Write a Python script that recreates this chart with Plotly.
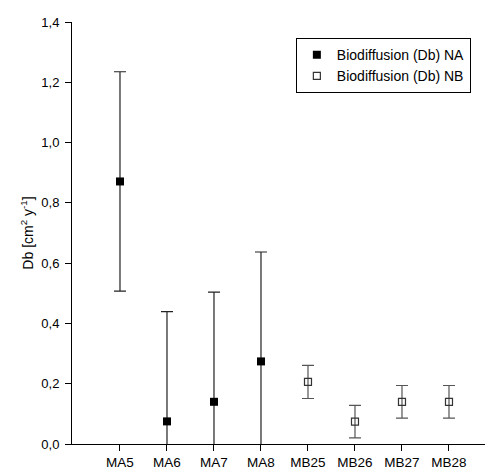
import plotly.graph_objects as go

categories = ["MA5", "MA6", "MA7", "MA8", "MB25", "MB26", "MB27", "MB28"]

na_labels = ["MA5", "MA6", "MA7", "MA8"]
na_values = [0.871, 0.075, 0.140, 0.274]
na_errors = [0.364, 0.364, 0.364, 0.363]

nb_labels = ["MB25", "MB26", "MB27", "MB28"]
nb_values = [0.206, 0.074, 0.140, 0.140]
nb_errors = [0.055, 0.054, 0.054, 0.054]

y_ticks = [0.0, 0.2, 0.4, 0.6, 0.8, 1.0, 1.2, 1.4]

FONT = "Liberation Sans, Arial, sans-serif"

fig = go.Figure()
fig.add_trace(go.Scatter(
    x=na_labels, y=na_values, mode="markers", name="Biodiffusion (Db) NA",
    marker=dict(symbol="square", size=8, color="black", line=dict(width=0)),
    error_y=dict(type="data", array=na_errors, visible=True, color="#222222",
                 thickness=1.2, width=6),
))
fig.add_trace(go.Scatter(
    x=nb_labels, y=nb_values, mode="markers", name="Biodiffusion (Db) NB",
    marker=dict(symbol="square-open", size=7, color="#333333", line=dict(width=1.2)),
    error_y=dict(type="data", array=nb_errors, visible=True, color="#555555",
                 thickness=1.2, width=6),
))

fig.update_layout(
    width=485, height=463,
    margin=dict(l=64, r=1, t=14, b=27),
    paper_bgcolor="white", plot_bgcolor="white",
    separators=",.",
    font=dict(family=FONT, size=13, color="black"),
    showlegend=True,
    legend=dict(x=0.533, y=0.962, xanchor="left", yanchor="top",
                bordercolor="black", borderwidth=1, bgcolor="white",
                font=dict(size=14), tracegroupgap=0),
    xaxis=dict(type="category", categoryorder="array", categoryarray=categories,
               range=[-1.021, 7.915], showline=True, linecolor="black", linewidth=1,
               ticks="outside", ticklen=6, tickcolor="black", showgrid=False,
               zeroline=False, tickfont=dict(size=13.5)),
    yaxis=dict(range=[0, 1.4], tickvals=y_ticks, tickformat=".1f",
               showline=True, linecolor="black", linewidth=1,
               ticks="outside", ticklen=6, tickcolor="black", showgrid=False,
               zeroline=False, tickfont=dict(size=13), ticklabelstandoff=3,
               title=dict(text="Db [cm<sup>2</sup> y<sup>-1</sup>]", font=dict(size=14), standoff=4)),
)

fig.write_html("out.html")
